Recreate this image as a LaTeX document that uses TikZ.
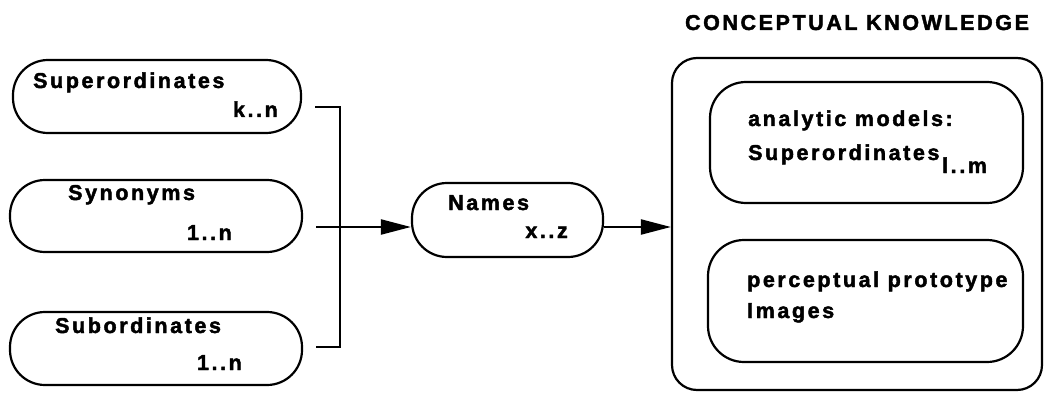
\documentclass[tikz,border=0pt]{standalone}
\usepackage{fontspec}
\setmainfont{Liberation Sans}[LetterSpace=12,FakeBold=2]
\usetikzlibrary{arrows.meta}
\begin{document}
\begin{tikzpicture}[x=1pt,y=-1pt,
  box/.style={draw, line width=2.2pt, rounded corners=#1, inner sep=0pt},
  txt/.style={font=\fontsize{21.5}{25}\selectfont\bfseries, inner sep=0pt},
  conn/.style={line width=2.2pt},
  arr/.style={line width=2.2pt, -{Triangle[length=30pt,width=15pt]}}]
\useasboundingbox (0,0) rectangle (1046,393);
% boxes
\node[box=35pt, minimum width=288pt, minimum height=73pt] (sup) at (157,96.5) {};
\node[box=35pt, minimum width=292pt, minimum height=72pt] (syn) at (156,216) {};
\node[box=35pt, minimum width=292pt, minimum height=73pt] (sub) at (156,348.5) {};
\node[box=35pt, minimum width=191pt, minimum height=74pt] (names) at (507.5,220) {};
\node[box=25pt, minimum width=370pt, minimum height=332pt] (outer) at (857,224) {};
\node[box=36pt, minimum width=313pt, minimum height=121pt] (in1) at (866.5,142.5) {};
\node[box=36pt, minimum width=315pt, minimum height=122pt] (in2) at (865.5,301) {};
% texts
\node[txt, anchor=base west] (tsup) at (33,88) {Superordinates};
\node[txt, anchor=base east] (tsupi) at (278,117) {k..n};
\node[txt, anchor=base west] (tsyn) at (68,200) {Synonyms};
\node[txt, anchor=base east] (tsyni) at (232,240) {1..n};
\node[txt, anchor=base west] (tsub) at (55,333) {Subordinates};
\node[txt, anchor=base east] (tsubi) at (242,370) {1..n};
\node[txt, anchor=base west] (tnam) at (448,210) {Names};
\node[txt, anchor=base east] (tnami) at (568,238) {x..z};
\node[txt, anchor=base] (title) at (857,30) {CONCEPTUAL KNOWLEDGE};
\node[txt, anchor=base west] (ta1) at (748,126) {analytic models:};
\node[txt, anchor=base west] (ta2) at (748,160) {Superordinates};
\node[txt, anchor=base west] (ta3) at (942,173) {l..m};
\node[txt, anchor=base west] (tp1) at (747,287) {perceptual prototype};
\node[txt, anchor=base west] (tp2) at (747,318) {Images};
% connectors
\coordinate (j1) at (340,107);
\coordinate (j3) at (340,347);
\coordinate (ya) at (0,227);
\draw[conn] ([xshift=13pt]sup.east |- j1) -- (j1) -- (j3) -- ([xshift=13pt]sub.east |- j3);
\draw[arr] ([xshift=13pt]syn.east |- ya) -- (names.west |- ya);
\draw[arr] (names.east |- ya) -- (outer.west |- ya);
\end{tikzpicture}
\end{document}
